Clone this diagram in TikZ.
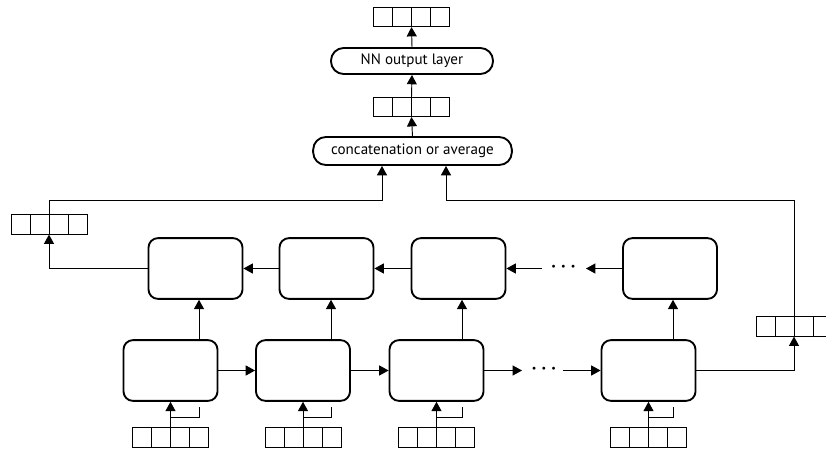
\documentclass[tikz,border=0pt]{standalone}
\usepackage{fontspec}
\setmainfont{PT Sans}
\usetikzlibrary{arrows.meta,calc}
\tikzset{
  box/.style={draw, line width=1.4pt, rounded corners=7pt, minimum width=70.5pt, minimum height=45.5pt, inner sep=0pt},
  lbox/.style={draw, line width=1.4pt, rounded corners=9.5pt, inner sep=0pt, font=\fontsize{11.3}{13}\selectfont},
  vec/.style={draw, line width=0.6pt, minimum width=57pt, minimum height=14.5pt, inner sep=0pt,
    path picture={
      \foreach \k in {1,2,3}{
        \draw[line width=0.6pt] ($(path picture bounding box.south west)!\k/4!(path picture bounding box.south east)$) --
          ($(path picture bounding box.north west)!\k/4!(path picture bounding box.north east)$);}
    }},
  conn/.style={line width=0.7pt},
  arr/.style={conn, -{Triangle[width=7.5pt,length=7pt]}},
  dotsn/.style={inner sep=0pt, font=\Large\boldmath}
}
\begin{document}
\begin{tikzpicture}[x=0.75pt,y=-0.75pt]
\useasboundingbox (0,0) rectangle (826,451);
% top part
\node[vec] (vT) at (411.5,17) {};
\node[lbox, minimum width=121.5pt, minimum height=19.5pt] (nn) at (412,61) {NN output layer};
\node[vec] (vM) at (411.5,107) {};
\node[lbox, minimum width=149pt, minimum height=21pt] (cat) at (412.5,151) {concatenation or average};
% side vectors
\node[vec] (vL) at (49,224.5) {};
\node[vec] (vR) at (794,326.5) {};
% backward boxes
\node[box] (b1) at (195.5,268.5) {};
\node[box] (b2) at (326.5,268.5) {};
\node[box] (b3) at (458.5,268.5) {};
\node[box] (b4) at (670,268.5) {};
% forward boxes
\node[box] (f1) at (170.5,370.5) {};
\node[box] (f2) at (303,370.5) {};
\node[box] (f3) at (436.5,370.5) {};
\node[box] (f4) at (648.5,370.5) {};
% input vectors
\node[vec] (x1) at (170.5,437.5) {};
\node[vec] (x2) at (303,437.5) {};
\node[vec] (x3) at (436.5,437.5) {};
\node[vec] (x4) at (648.5,437.5) {};
% dots
\node[dotsn] (df) at (544,369) {$\cdots$};
\node[dotsn] (db) at (563.5,267) {$\cdots$};
\coordinate (df1) at (522,370.5);
\coordinate (df2) at (563,370.5);
\coordinate (db1) at (586,268.5);
\coordinate (db2) at (542,268.5);
% top connectors
\draw[arr] (nn.north) -- (vT.south);
\draw[arr] (vM.north) -- (nn.south);
\draw[arr] (cat.north) -- (vM.south);
% inputs to forward boxes and stubs
\foreach \i/\d in {1/28.5,2/28,3/25.5,4/24.5}{
  \draw[arr] (x\i.north) -- (f\i.south);
  \draw[conn] ($(x\i.north)+(0,-10)$) -| ($(f\i.south)+(\d,5)$);
}
% forward to backward
\foreach \i/\d in {1/28.5,2/28,3/25.5,4/24.5}{
  \draw[arr] ($(f\i.north)+(\d,0)$) coordinate (t\i) -- (t\i |- b\i.south);
}
% forward chain
\draw[arr] (f1.east) -- (f2.west);
\draw[arr] (f2.east) -- (f3.west);
\draw[arr] (f3.east) -- (df1);
\draw[arr] (df2) -- (f4.west);
% backward chain
\draw[arr] (b2.west) -- (b1.east);
\draw[arr] (b3.west) -- (b2.east);
\draw[arr] (b4.west) -- (db1);
\draw[arr] (db2) -- (b3.east);
% outputs
\draw[arr] (b1.west) -| (vL.south);
\draw[arr] (f4.east) -| (vR.south);
\draw[arr] (vL.north) |- ($(cat.south)+(-30.5,35)$) -- ($(cat.south)+(-30.5,0)$);
\draw[arr] (vR.north) |- ($(cat.south)+(33.5,35)$) -- ($(cat.south)+(33.5,0)$);
\end{tikzpicture}
\end{document}
